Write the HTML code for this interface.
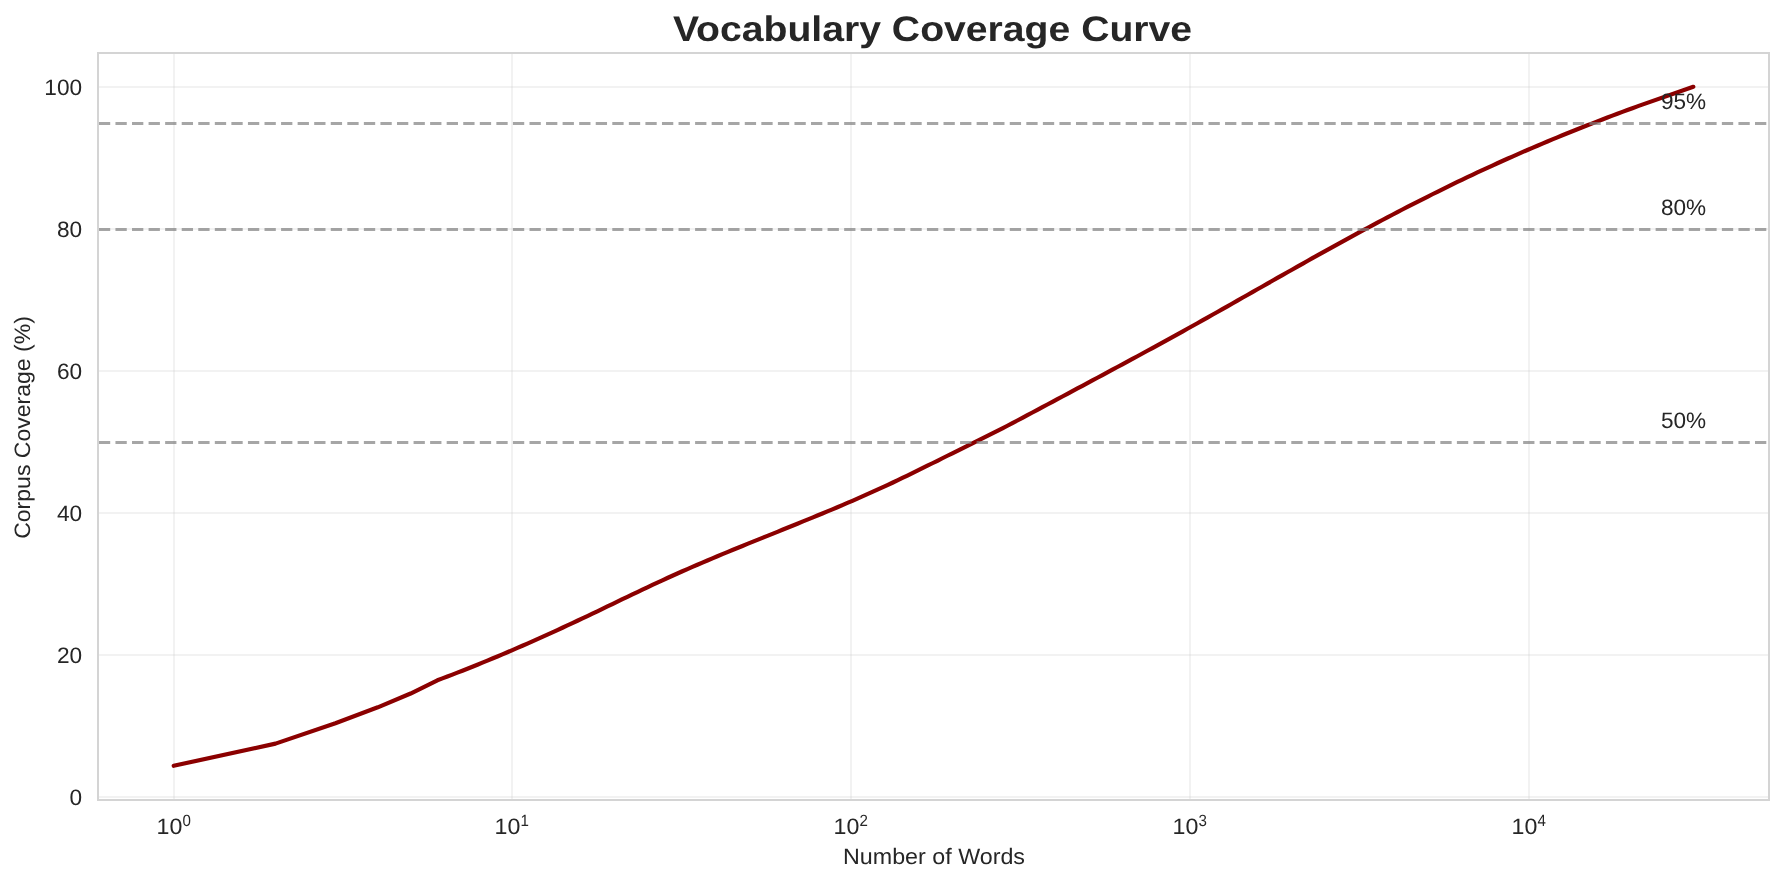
<!DOCTYPE html>
<html><head><meta charset="utf-8"><title>Vocabulary Coverage Curve</title>
<style>html,body{margin:0;padding:0;background:#fff;width:1784px;height:883px;overflow:hidden}svg{display:block;font-family:"Liberation Sans", sans-serif;will-change:transform;text-rendering:geometricPrecision}</style>
</head><body>
<svg width="1784" height="883" viewBox="0 0 1784 883"><rect width="1784" height="883" fill="#fff"/><g stroke="#cccccc" stroke-opacity="0.25" stroke-width="2"><line x1="174" y1="53.0" x2="174" y2="800.0"/><line x1="512" y1="53.0" x2="512" y2="800.0"/><line x1="851" y1="53.0" x2="851" y2="800.0"/><line x1="1190" y1="53.0" x2="1190" y2="800.0"/><line x1="1529" y1="53.0" x2="1529" y2="800.0"/><line x1="98.0" y1="797" x2="1769.0" y2="797"/><line x1="98.0" y1="655" x2="1769.0" y2="655"/><line x1="98.0" y1="513" x2="1769.0" y2="513"/><line x1="98.0" y1="371" x2="1769.0" y2="371"/><line x1="98.0" y1="229" x2="1769.0" y2="229"/><line x1="98.0" y1="87" x2="1769.0" y2="87"/></g><path d="M173.7,765.80 L275.5,743.60 L335.4,723.28 L377.8,707.32 L410.6,693.53 L437.4,680.30 L442.4,678.42 L447.4,676.53 L452.4,674.61 L457.4,672.67 L462.4,670.71 L467.4,668.73 L472.4,666.74 L477.4,664.72 L482.4,662.68 L487.4,660.63 L492.4,658.55 L497.4,656.46 L502.4,654.35 L507.4,652.23 L512.4,650.08 L517.4,647.92 L522.4,645.74 L527.4,643.55 L532.4,641.33 L537.4,639.11 L542.4,636.87 L547.4,634.61 L552.4,632.34 L557.4,630.05 L562.4,627.75 L567.4,625.43 L572.4,623.10 L577.4,620.76 L582.4,618.40 L587.4,616.04 L592.4,613.65 L597.4,611.26 L602.4,608.86 L607.4,606.46 L612.4,604.05 L617.4,601.63 L622.4,599.22 L627.4,596.82 L632.4,594.42 L637.4,592.03 L642.4,589.64 L647.4,587.28 L652.4,584.93 L657.4,582.59 L662.4,580.28 L667.4,577.99 L672.4,575.73 L677.4,573.49 L682.4,571.27 L687.4,569.07 L692.4,566.89 L697.4,564.73 L702.4,562.59 L707.4,560.47 L712.4,558.36 L717.4,556.26 L722.4,554.18 L727.4,552.11 L732.4,550.05 L737.4,548.00 L742.4,545.95 L747.4,543.92 L752.4,541.89 L757.4,539.87 L762.4,537.85 L767.4,535.84 L772.4,533.82 L777.4,531.81 L782.4,529.79 L787.4,527.77 L792.4,525.75 L797.4,523.73 L802.4,521.69 L807.4,519.66 L812.4,517.61 L817.4,515.55 L822.4,513.49 L827.4,511.41 L832.4,509.31 L837.4,507.21 L842.4,505.09 L847.4,502.95 L852.4,500.79 L857.4,498.62 L862.4,496.42 L867.4,494.20 L872.4,491.96 L877.4,489.70 L882.4,487.41 L887.4,485.09 L892.4,482.75 L897.4,480.38 L902.4,477.99 L907.4,475.57 L912.4,473.14 L917.4,470.68 L922.4,468.22 L927.4,465.74 L932.4,463.25 L937.4,460.76 L942.4,458.26 L947.4,455.76 L952.4,453.27 L957.4,450.77 L962.4,448.28 L967.4,445.80 L972.4,443.32 L977.4,440.85 L982.4,438.38 L987.4,435.89 L992.4,433.39 L997.4,430.87 L1002.4,428.32 L1007.4,425.75 L1012.4,423.14 L1017.4,420.51 L1022.4,417.87 L1027.4,415.20 L1032.4,412.53 L1037.4,409.86 L1042.4,407.18 L1047.4,404.50 L1052.4,401.83 L1057.4,399.16 L1062.4,396.48 L1067.4,393.81 L1072.4,391.14 L1077.4,388.46 L1082.4,385.79 L1087.4,383.11 L1092.4,380.43 L1097.4,377.76 L1102.4,375.07 L1107.4,372.39 L1112.4,369.70 L1117.4,367.01 L1122.4,364.32 L1127.4,361.62 L1132.4,358.91 L1137.4,356.21 L1142.4,353.49 L1147.4,350.78 L1152.4,348.05 L1157.4,345.32 L1162.4,342.58 L1167.4,339.84 L1172.4,337.09 L1177.4,334.33 L1182.4,331.56 L1187.4,328.79 L1192.4,326.00 L1197.4,323.21 L1202.4,320.41 L1207.4,317.60 L1212.4,314.79 L1217.4,311.97 L1222.4,309.15 L1227.4,306.32 L1232.4,303.49 L1237.4,300.65 L1242.4,297.81 L1247.4,294.97 L1252.4,292.13 L1257.4,289.29 L1262.4,286.45 L1267.4,283.61 L1272.4,280.77 L1277.4,277.93 L1282.4,275.10 L1287.4,272.27 L1292.4,269.44 L1297.4,266.62 L1302.4,263.81 L1307.4,261.00 L1312.4,258.19 L1317.4,255.40 L1322.4,252.61 L1327.4,249.83 L1332.4,247.06 L1337.4,244.30 L1342.4,241.56 L1347.4,238.82 L1352.4,236.09 L1357.4,233.38 L1362.4,230.68 L1367.4,227.99 L1372.4,225.31 L1377.4,222.64 L1382.4,219.99 L1387.4,217.36 L1392.4,214.73 L1397.4,212.12 L1402.4,209.52 L1407.4,206.94 L1412.4,204.38 L1417.4,201.82 L1422.4,199.29 L1427.4,196.77 L1432.4,194.26 L1437.4,191.77 L1442.4,189.30 L1447.4,186.84 L1452.4,184.40 L1457.4,181.98 L1462.4,179.57 L1467.4,177.19 L1472.4,174.82 L1477.4,172.47 L1482.4,170.13 L1487.4,167.82 L1492.4,165.53 L1497.4,163.25 L1502.4,160.99 L1507.4,158.76 L1512.4,156.54 L1517.4,154.34 L1522.4,152.15 L1527.4,149.99 L1532.4,147.84 L1537.4,145.71 L1542.4,143.59 L1547.4,141.50 L1552.4,139.42 L1557.4,137.35 L1562.4,135.30 L1567.4,133.27 L1572.4,131.26 L1577.4,129.25 L1582.4,127.27 L1587.4,125.30 L1592.4,123.34 L1597.4,121.40 L1602.4,119.48 L1607.4,117.56 L1612.4,115.67 L1617.4,113.78 L1622.4,111.91 L1627.4,110.05 L1632.4,108.21 L1637.4,106.37 L1638.7,105.90 L1693.3,86.80" fill="none" stroke="#8b0000" stroke-width="4.17" stroke-linecap="round" stroke-linejoin="round"/><line x1="98.9" y1="123.5" x2="1769.0" y2="123.5" stroke="#808080" stroke-opacity="0.7" stroke-width="3.125" stroke-dasharray="11.3 5.261"/><line x1="98.9" y1="229.5" x2="1769.0" y2="229.5" stroke="#808080" stroke-opacity="0.7" stroke-width="3.125" stroke-dasharray="11.3 5.261"/><line x1="98.9" y1="442.5" x2="1769.0" y2="442.5" stroke="#808080" stroke-opacity="0.7" stroke-width="3.125" stroke-dasharray="11.3 5.261"/><rect x="98.0" y="53.0" width="1671.0" height="747.0" fill="none" stroke="#d4d4d4" stroke-width="2"/><text x="82.1" y="804.60" text-anchor="end" font-size="22.3" textLength="12.60" fill="#262626" lengthAdjust="spacingAndGlyphs">0</text><text x="82.1" y="662.60" text-anchor="end" font-size="22.3" textLength="25.20" fill="#262626" lengthAdjust="spacingAndGlyphs">20</text><text x="82.1" y="520.60" text-anchor="end" font-size="22.3" textLength="25.20" fill="#262626" lengthAdjust="spacingAndGlyphs">40</text><text x="82.1" y="378.60" text-anchor="end" font-size="22.3" textLength="25.20" fill="#262626" lengthAdjust="spacingAndGlyphs">60</text><text x="82.1" y="236.60" text-anchor="end" font-size="22.3" textLength="25.20" fill="#262626" lengthAdjust="spacingAndGlyphs">80</text><text x="82.1" y="94.60" text-anchor="end" font-size="22.3" textLength="37.80" fill="#262626" lengthAdjust="spacingAndGlyphs">100</text><text x="156.60" y="834.2" font-size="22.3" textLength="25.80" fill="#262626" lengthAdjust="spacingAndGlyphs">10</text><text x="182.50" y="826.1" font-size="16.3" textLength="8.40" fill="#262626" lengthAdjust="spacingAndGlyphs">0</text><text x="494.60" y="834.2" font-size="22.3" textLength="25.80" fill="#262626" lengthAdjust="spacingAndGlyphs">10</text><text x="520.50" y="826.1" font-size="16.3" textLength="8.40" fill="#262626" lengthAdjust="spacingAndGlyphs">1</text><text x="833.60" y="834.2" font-size="22.3" textLength="25.80" fill="#262626" lengthAdjust="spacingAndGlyphs">10</text><text x="859.50" y="826.1" font-size="16.3" textLength="8.40" fill="#262626" lengthAdjust="spacingAndGlyphs">2</text><text x="1172.60" y="834.2" font-size="22.3" textLength="25.80" fill="#262626" lengthAdjust="spacingAndGlyphs">10</text><text x="1198.50" y="826.1" font-size="16.3" textLength="8.40" fill="#262626" lengthAdjust="spacingAndGlyphs">3</text><text x="1511.60" y="834.2" font-size="22.3" textLength="25.80" fill="#262626" lengthAdjust="spacingAndGlyphs">10</text><text x="1537.50" y="826.1" font-size="16.3" textLength="8.40" fill="#262626" lengthAdjust="spacingAndGlyphs">4</text><text x="1661.0" y="108.7" font-size="22.3" textLength="45.2" fill="#262626" lengthAdjust="spacingAndGlyphs">95%</text><text x="1661.0" y="214.6" font-size="22.3" textLength="45.2" fill="#262626" lengthAdjust="spacingAndGlyphs">80%</text><text x="1661.0" y="427.7" font-size="22.3" textLength="45.2" fill="#262626" lengthAdjust="spacingAndGlyphs">50%</text><text x="934" y="863.8" text-anchor="middle" font-size="22.3" textLength="182.0" fill="#262626" lengthAdjust="spacingAndGlyphs">Number of Words</text><text transform="translate(30.05,427.5) rotate(-90)" text-anchor="middle" font-size="22.3" textLength="222.7" fill="#262626" lengthAdjust="spacingAndGlyphs">Corpus Coverage (%)</text><text x="932.5" y="40.8" text-anchor="middle" font-size="35.5" font-weight="bold" textLength="519.2" fill="#262626" lengthAdjust="spacingAndGlyphs">Vocabulary Coverage Curve</text></svg>
</body></html>
